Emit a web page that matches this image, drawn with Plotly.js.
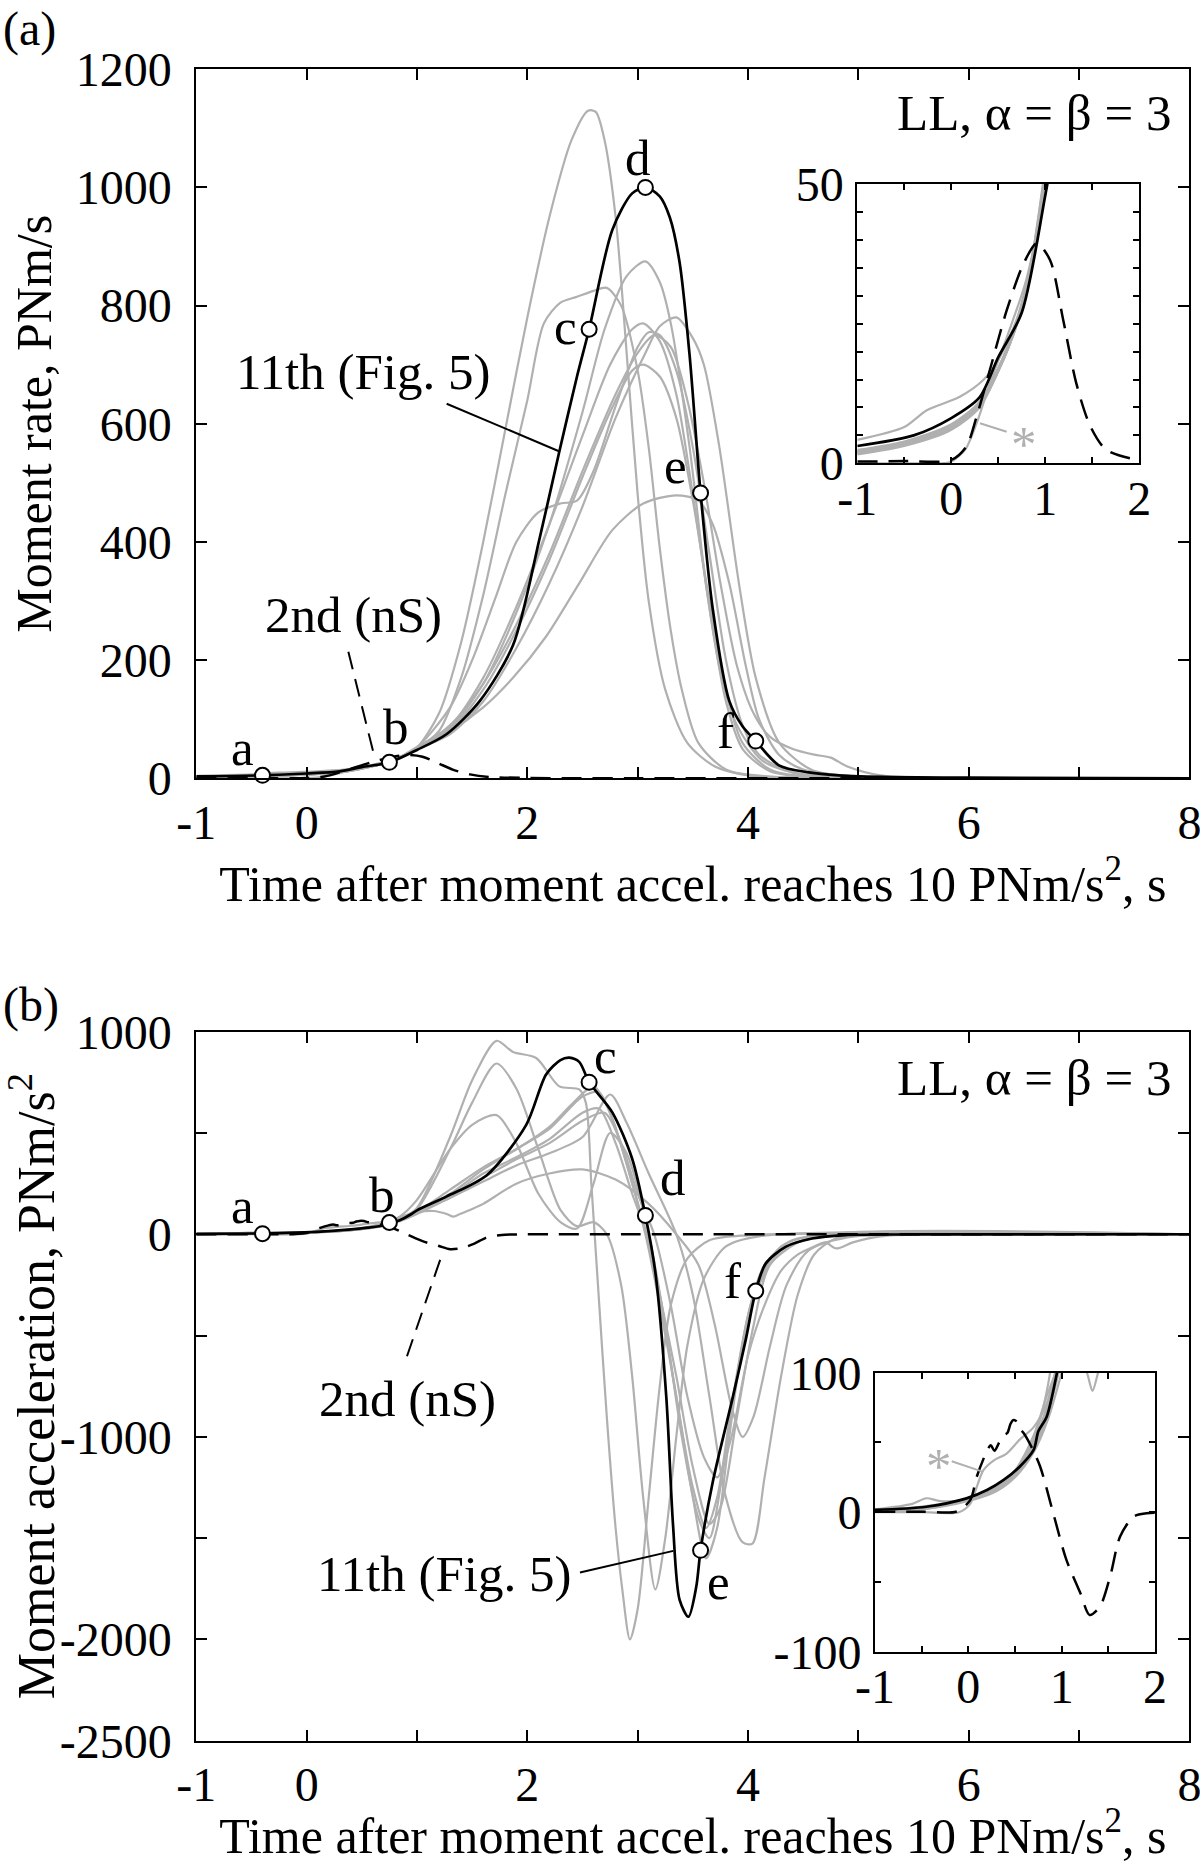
<!DOCTYPE html>
<html>
<head>
<meta charset="utf-8">
<script src="https://cdn.plot.ly/plotly-3.0.1.min.js"></script>
<style>html,body{margin:0;padding:0;background:#fff;}#chart{width:1200px;height:1864px;}</style>
</head>
<body>
<div id="chart"></div>
<script>
// ---------------- DATA ----------------
// tick labels (labelled ticks) and unlabelled minor ticks
const xTickVals = [-1,0,2,4,6,8];
const xTickText = ['-1','0','2','4','6','8'];
const xMinorVals = [1,3,5,7];
const rateTickVals = [0,200,400,600,800,1000,1200];
const rateTickText = ['0','200','400','600','800','1000','1200'];
const accTickVals = [1000,0,-1000,-2000,-2500];
const accTickText = ['1000','0','-1000','-2000','-2500'];
const accMinorVals = [500,-500,-1500];
const insetXVals = [-1,0,1,2];
const insetXText = ['-1','0','1','2'];
const insetXMinor = [-0.5,0.5,1.5];
const insetRateVals = [0,50];
const insetRateText = ['0','50'];
const insetRateMinor = [5,10,15,20,25,30,35,40,45];
const insetAccVals = [-100,0,100];
const insetAccText = ['-100','0','100'];
const insetAccMinor = [-50,50];

// point labels a-f
const markLabels = ['a','b','c','d','e','f'];
const markT = [-0.4, 0.75, 2.56, 3.07, 3.57, 4.07];
const markRate = [5, 27, 760, 1000, 483, 63];
const markAcc = [3, 58, 751, 93, -1560, -280];

// 11th event (black solid), moment rate
const tRate11 = [-1,-0.4,0,0.3,0.5,0.75,1.0,1.27,1.57,1.87,2.11,2.29,2.45,2.56,2.77,2.95,3.07,3.2,3.29,3.38,3.47,3.57,3.68,3.83,3.95,4.07,4.28,4.55,4.82,5.3,6,8];
const yRate11 = [3.1,5,8.1,11.8,19,27,48,75,131,225,405,553,680,760,928,990,1000,985,950,873,717,483,287,131,88,63,22,10,5,2,1,0];
// 2nd event (dashed), moment rate
const tRate2 = [-1,-0.5,0,0.16,0.27,0.41,0.59,0.77,0.91,1.05,1.19,1.33,1.48,1.65,2,3,8];
const yRate2 = [0.3,0.4,0.6,3,8.4,16.7,27.4,35.8,39.4,36.4,25.7,14.3,6.6,2.4,0.6,0,0];

// other events (grey), moment rate
const tRateG1 = [-1,-0.5,0,0.3,0.5,0.7,0.85,1.0,1.2,1.4,1.6,1.8,2.0,2.2,2.4,2.55,2.62,2.7,2.8,2.9,3.0,3.1,3.25,3.45,3.7,4.0,4.5,8];
const yRateG1 = [2.0,3.5,6.5,10.5,16.5,25,35,52,110,230,400,590,780,950,1080,1130,1128,1080,950,720,480,300,150,60,20,5,1,0];
const tRateG2 = [-1,-0.5,0,0.3,0.5,0.7,0.85,1.0,1.2,1.4,1.6,1.8,2.0,2.15,2.3,2.45,2.6,2.72,2.85,3.0,3.1,3.2,3.3,3.4,3.55,3.8,4.2,8];
const yRateG2 = [1.8,3.3,6.2,10.2,16.5,25,35,50,80,170,310,480,640,770,805,815,825,830,800,690,560,390,250,150,60,15,3,0];
const tRateG3 = [-1,-0.5,0,0.3,0.5,0.7,0.85,1.0,1.3,1.6,1.9,2.2,2.5,2.7,2.9,3.07,3.2,3.3,3.47,3.62,3.75,3.9,4.13,4.5,5,8];
const yRateG3 = [2.2,3.7,6.8,11,17,25.5,35.5,51,85,160,280,430,620,760,850,875,840,770,561,327,180,90,30,6,1,0];
const tRateG4 = [-1,-0.5,0,0.3,0.5,0.7,0.85,1.0,1.3,1.6,1.9,2.2,2.5,2.8,3.07,3.2,3.35,3.5,3.6,3.74,3.92,4.07,4.28,4.58,5,8];
const yRateG4 = [1.6,3.1,6.0,10,16.5,25,34.5,49,75,130,220,330,460,610,720,765,780,745,700,561,327,170,61,14,3,0];
const tRateG5 = [-1,-0.5,0,0.3,0.5,0.7,0.85,1.0,1.3,1.6,1.9,2.2,2.5,2.75,2.95,3.05,3.2,3.35,3.5,3.65,3.8,3.95,4.2,4.6,8];
const yRateG5 = [2.4,3.9,7.0,11,17,25.5,36,53,88,170,290,430,580,700,760,770,740,650,480,290,130,50,12,2,0];
const tRateG6 = [-1,-0.5,0,0.3,0.5,0.7,0.85,1.0,1.3,1.6,1.9,2.2,2.5,2.75,2.95,3.05,3.2,3.35,3.5,3.65,3.8,3.95,4.2,4.6,8];
const yRateG6 = [1.9,3.4,6.4,10.4,16.8,25.3,35.2,51,82,150,250,370,510,620,690,700,680,610,470,300,150,60,15,2,0];
const tRateG7 = [-1,-0.5,-0.26,0.09,0.34,0.5,0.7,0.85,1.0,1.3,1.6,1.87,2.17,2.47,2.77,3.05,3.35,3.55,3.68,3.83,3.98,4.1,4.28,4.5,5,8];
const yRateG7 = [4.2,6.5,9.5,11.9,14.9,18.5,26,36,52,80,120,170,240,330,420,465,479,470,430,330,190,100,40,15,3,0];
const tRateG8 = [-1,-0.5,0,0.3,0.5,0.7,0.85,1.0,1.3,1.5,1.72,1.9,2.1,2.3,2.45,2.6,2.8,3.0,3.1,3.2,3.35,3.5,3.65,3.8,3.95,4.1,4.4,5,8];
const yRateG8 = [2.1,3.6,6.6,10.8,17,25.5,35.8,52,120,200,310,400,450,465,470,520,630,730,755,750,690,560,380,200,90,40,10,2,0];
const tRateG9 = [-1,-0.5,-0.1,0,0.15,0.27,0.41,0.6,0.8,1.0,1.3,1.6,1.9,2.2,2.5,2.8,3.0,3.15,3.3,3.45,3.6,3.75,3.9,4.05,4.2,4.4,4.6,4.75,4.9,5.2,5.6,8];
const yRateG9 = [0,0,0,0.3,2.5,7.2,14.3,23,33,50,90,160,260,380,520,650,720,750,730,640,500,330,190,110,70,50,40,35,20,5,1,0];

// 11th event (black solid), moment acceleration
const tAcc11 = [-1,-0.45,-0.02,0.2,0.375,0.55,0.7,0.75,0.84,0.95,1.0,1.27,1.63,1.99,2.17,2.3,2.38,2.47,2.56,2.77,2.95,3.07,3.16,3.26,3.32,3.38,3.46,3.53,3.57,3.68,3.86,3.98,4.07,4.16,4.34,4.58,4.88,5.5,8];
const yAcc11 = [1.6,3.9,9.9,15.9,23,32.6,44.6,58,68.5,100,118,187,290,540,789,860,872,851,751,602,373,93,-187,-809,-1432,-1805,-1888,-1743,-1560,-1224,-809,-519,-280,-145,-62,-21,-4,-1,0];
// 2nd event (dashed), moment acceleration
const tAcc2 = [-1,-0.5,-0.125,0.02,0.09,0.2,0.24,0.28,0.33,0.375,0.42,0.45,0.48,0.52,0.55,0.59,0.66,0.77,0.91,1.05,1.2,1.3,1.41,1.52,1.625,1.77,1.91,2.2,3,8];
const yAcc2 = [0.4,0.4,0.5,8.7,25.4,44,48,44,50,55,57,63,66,65,60,57,49,32.6,-0.8,-34,-58,-73.7,-67.7,-46,-17.6,-3.2,-0.8,0,0,0];

// other events (grey), moment acceleration
const tAccG1 = [-1,-0.5,0,0.3,0.5,0.7,0.85,1.0,1.3,1.5,1.72,1.87,2.08,2.29,2.47,2.53,2.58,2.64,2.72,2.8,2.86,2.93,3.0,3.1,3.2,3.3,3.45,3.65,4.0,8];
const yAccG1 = [1,3,10,18,27,48,75,130,480,760,955,900,870,730,715,650,250,-250,-900,-1450,-1750,-2000,-1850,-1300,-750,-350,-120,-30,-5,0];
const tAccG2 = [-1,-0.5,0,0.3,0.5,0.7,0.85,1.0,1.3,1.5,1.72,1.9,2.1,2.3,2.45,2.6,2.72,2.85,2.95,3.05,3.16,3.25,3.35,3.45,3.6,3.8,4.1,8];
const yAccG2 = [0.5,2,9,17,28,50,78,125,420,650,843,720,420,120,40,60,0,-250,-700,-1300,-1753,-1500,-1000,-550,-220,-60,-10,0];
const tAccG3 = [-1,-0.5,0,0.3,0.5,0.7,0.85,1.0,1.3,1.6,1.9,2.2,2.4,2.6,2.75,2.9,3.07,3.2,3.35,3.5,3.62,3.72,3.83,3.95,4.1,4.3,4.6,5,8];
const yAccG3 = [1,2.5,9,16,26,45,70,110,220,330,420,530,640,730,600,350,0,-350,-800,-1300,-1600,-1450,-1000,-550,-250,-80,-15,0,0];
const tAccG4 = [-1,-0.5,0,0.3,0.5,0.7,0.85,1.0,1.3,1.6,1.9,2.2,2.5,2.75,2.9,3.1,3.35,3.5,3.65,3.8,3.95,4.04,4.15,4.3,4.45,4.6,4.8,5.2,8];
const yAccG4 = [0.5,2,8,15,25,43,66,100,180,260,340,400,480,690,550,300,0,-300,-800,-1300,-1520,-1527,-1200,-700,-300,-100,-20,0,0];
const tAccG5 = [-1,-0.5,0,0.3,0.5,0.7,0.85,1.0,1.3,1.6,1.9,2.2,2.5,2.65,2.8,2.95,3.08,3.2,3.35,3.5,3.62,3.72,3.85,4.0,4.15,4.4,4.8,8];
const yAccG5 = [1.5,4,10,17,27,46,72,115,200,320,420,520,680,700,520,250,0,-300,-800,-1250,-1450,-1300,-850,-400,-150,-30,0,0];
const tAccG6 = [-1,-0.5,0,0.3,0.5,0.7,0.85,1.0,1.3,1.6,1.9,2.2,2.5,2.65,2.8,2.95,3.08,3.2,3.35,3.5,3.65,3.75,3.9,4.05,4.2,4.5,5,8];
const yAccG6 = [1,3,9,16,27,47,74,118,190,300,380,470,600,620,450,200,0,-300,-700,-1150,-1430,-1350,-900,-450,-150,-30,0,0];
const tAccG7 = [-1,-0.6,-0.45,-0.3,0,0.3,0.5,0.7,0.85,1.0,1.15,1.27,1.33,1.39,1.5,1.6,1.9,2.2,2.5,2.8,3.1,3.35,3.55,3.7,3.85,3.95,4.05,4.2,4.35,4.55,4.9,5.5,8];
const yAccG7 = [2,6,10,8,9,18,30,55,85,108,115,100,87,100,125,150,250,300,320,270,150,0,-150,-450,-850,-1000,-900,-550,-250,-80,-15,0,0];
const tAccG8 = [-1,-0.5,0,0.3,0.5,0.7,0.85,1.0,1.3,1.5,1.72,1.9,2.1,2.3,2.45,2.6,2.75,2.9,3.1,3.25,3.4,3.55,3.65,3.75,3.9,4.05,4.3,4.7,8];
const yAccG8 = [0.5,2,9,17,28,52,90,170,420,540,588,450,200,60,28,250,500,400,0,-450,-1000,-1400,-1500,-1250,-700,-300,-60,0,0];
const tAccG9 = [-1,-0.5,-0.1,0.02,0.1,0.16,0.27,0.41,0.55,0.7,0.84,0.93,1.0,1.3,1.6,1.9,2.2,2.5,2.7,2.85,3.0,3.15,3.3,3.45,3.6,3.72,3.85,4.0,4.15,4.3,4.45,4.6,4.7,4.8,4.95,5.2,5.6,8];
const yAccG9 = [0,0,0,6,20,30,37,42,52,61,78,100,115,180,280,370,450,560,600,450,200,0,-350,-800,-1100,-1200,-1000,-600,-350,-180,-100,-60,-40,-70,-40,-10,0,0];

// ---------------- FIGURE ----------------
const W = 1200, H = 1864;
const FONT = 'Liberation Serif, Times New Roman, serif';
const GREY = '#b0b0b0';
const px = v => v / W;
const py = v => 1 - v / H;

const rateGreys = [[tRateG1,yRateG1],[tRateG2,yRateG2],[tRateG3,yRateG3],[tRateG4,yRateG4],[tRateG5,yRateG5],[tRateG6,yRateG6],[tRateG7,yRateG7],[tRateG8,yRateG8],[tRateG9,yRateG9]];
const accGreys = [[tAccG1,yAccG1],[tAccG2,yAccG2],[tAccG3,yAccG3],[tAccG4,yAccG4],[tAccG5,yAccG5],[tAccG6,yAccG6],[tAccG7,yAccG7],[tAccG8,yAccG8],[tAccG9,yAccG9]];

const traces = [];
function addSet(xa, ya, greys, t11, y11, t2, y2, withMarks, markY) {
  greys.forEach(g => traces.push({x:g[0], y:g[1], xaxis:xa, yaxis:ya, type:'scatter', mode:'lines',
    line:{color:GREY, width:2.2, shape:'spline', smoothing:0.8}, hoverinfo:'skip', showlegend:false}));
  traces.push({x:t2, y:y2, xaxis:xa, yaxis:ya, type:'scatter', mode:'lines',
    line:{color:'black', width:2.5, dash:'20px,11px', shape:'spline', smoothing:0.8}, hoverinfo:'skip', showlegend:false});
  traces.push({x:t11, y:y11, xaxis:xa, yaxis:ya, type:'scatter', mode:'lines',
    line:{color:'black', width:2.7, shape:'spline', smoothing:0.8}, hoverinfo:'skip', showlegend:false});
  if (withMarks) traces.push({x:markT, y:markY, text:markLabels, xaxis:xa, yaxis:ya, type:'scatter', mode:'markers',
    marker:{symbol:'circle', size:15, color:'white', line:{color:'black', width:2}}, hoverinfo:'skip', showlegend:false, cliponaxis:false});
}
addSet('x','y', rateGreys, tRate11, yRate11, tRate2, yRate2, true, markRate);
addSet('x2','y2', accGreys, tAcc11, yAcc11, tAcc2, yAcc2, true, markAcc);
addSet('x3','y3', rateGreys, tRate11, yRate11, tRate2, yRate2, false, null);
addSet('x4','y4', accGreys, tAcc11, yAcc11, tAcc2, yAcc2, false, null);

function ax(extra, minorVals, len) {
  const L = len || 11;
  const o = {showline:true, linecolor:'black', linewidth:2, mirror:'allticks', ticks:'inside',
    ticklen:L, tickwidth:2, tickcolor:'black', showgrid:false, zeroline:false, fixedrange:true,
    ticklabeloverflow:'allow', tickmode:'array',
    tickfont:{family:FONT, size:48, color:'black'}};
  if (minorVals) o.minor = {tickmode:'array', tickvals:minorVals, ticks:'inside', ticklen:L, tickwidth:2, tickcolor:'black', showgrid:false};
  return Object.assign(o, extra);
}
const titleFont = {family:FONT, size:50, color:'black'};
const xTitle = 'Time after moment accel. reaches 10 PNm/s<sup>2</sup>, s';

const layout = {
  width:W, height:H, margin:{l:0,r:0,t:0,b:0}, paper_bgcolor:'white', plot_bgcolor:'white',
  showlegend:false, font:{family:FONT, size:48, color:'black'},
  xaxis: ax({domain:[px(196.3), px(1189.4)], range:[-1,8], anchor:'y', tickvals:xTickVals, ticktext:xTickText,
    ticklabelstandoff:1, title:{text:xTitle, font:titleFont, standoff:13}}, xMinorVals),
  yaxis: ax({domain:[py(778.3), py(69.3)], range:[0,1200], anchor:'x', tickvals:rateTickVals, ticktext:rateTickText,
    ticklabelstandoff:13, title:{text:'Moment rate, PNm/s', font:titleFont, standoff:8}}),
  xaxis2: ax({domain:[px(196.3), px(1189.4)], range:[-1,8], anchor:'y2', tickvals:xTickVals, ticktext:xTickText,
    ticklabelstandoff:1, title:{text:xTitle, font:titleFont, standoff:13}}, xMinorVals),
  yaxis2: ax({domain:[py(1740.7), py(1031.7)], range:[-2500,1000], anchor:'x2', tickvals:accTickVals, ticktext:accTickText,
    ticklabelstandoff:13, title:{text:'Moment acceleration, PNm/s<sup>2</sup>', font:{family:FONT, size:52, color:'black'}, standoff:12}}, accMinorVals),
  xaxis3: ax({domain:[px(857.3), px(1139.3)], range:[-1,2], anchor:'y3', tickvals:insetXVals, ticktext:insetXText,
    ticklabelstandoff:-8}, insetXMinor, 6),
  yaxis3: ax({domain:[py(463.3), py(184)], range:[0,50], anchor:'x3', tickvals:insetRateVals, ticktext:insetRateText,
    ticklabelstandoff:2}, insetRateMinor, 6),
  xaxis4: ax({domain:[px(875), px(1155)], range:[-1,2], anchor:'y4', tickvals:insetXVals, ticktext:insetXText,
    ticklabelstandoff:-8}, insetXMinor, 6),
  yaxis4: ax({domain:[py(1651.7), py(1372.7)], range:[-100,100], anchor:'x4', tickvals:insetAccVals, ticktext:insetAccText,
    ticklabelstandoff:2}, insetAccMinor, 6),
  annotations: [],
  shapes: []
};

const LABF = 51;
function lab(text, x, y, xr, yr, opts) {
  layout.annotations.push(Object.assign({text:text, x:x, y:y, xref:xr, yref:yr, showarrow:false,
    xanchor:'center', yanchor:'middle', font:{family:FONT, size:LABF, color:'black'}}, opts || {}));
}
// panel letters
lab('(a)', px(1), 1, 'paper', 'paper', {xanchor:'left', yanchor:'top', font:{family:FONT, size:48, color:'black'}});
lab('(b)', px(1), py(976), 'paper', 'paper', {xanchor:'left', yanchor:'top', font:{family:FONT, size:48, color:'black'}});
// point labels
const topLabPos = [[-0.577,51],[0.81,87],[2.35,763],[3.003,1050],[3.343,528],[3.80,80]];
const botLabPos = [[-0.577,142],[0.68,194],[2.711,880],[3.316,280],[3.731,-1716],[3.86,-230]];
markLabels.forEach((m,i) => { lab(m, topLabPos[i][0], topLabPos[i][1], 'x', 'y'); lab(m, botLabPos[i][0], botLabPos[i][1], 'x2', 'y2'); });
lab('11th (Fig. 5)', 0.516, 688, 'x', 'y');
lab('2nd (nS)', 0.429, 276, 'x', 'y');
lab('LL, α = β = 3', 7.861, 1126, 'x', 'y', {xanchor:'right'});
lab('2nd (nS)', 0.912, -812, 'x2', 'y2');
lab('11th (Fig. 5)', 1.253, -1678, 'x2', 'y2');
lab('LL, α = β = 3', 7.861, 773, 'x2', 'y2', {xanchor:'right'});
lab('*', 0.773, 3.5, 'x3', 'y3', {font:{family:FONT, size:LABF, color:GREY}});
lab('*', -0.314, 33, 'x4', 'y4', {font:{family:FONT, size:LABF, color:GREY}});

function seg(x0,y0,x1,y1,xr,yr,color,dash) {
  layout.shapes.push({type:'line', x0:x0, y0:y0, x1:x1, y1:y1, xref:xr, yref:yr,
    line:{color:color, width:2, dash:dash || 'solid'}});
}
seg(1.269,634,2.281,554,'x','y','black');
seg(0.378,214,0.603,45,'x','y','black','18px,10px');
seg(1.210,-126,0.898,-620,'x2','y2','black','18px,10px');
seg(2.477,-1670,3.323,-1563,'x2','y2','black');
seg(0.305,7.16,0.589,5.66,'x3','y3',GREY);
seg(-0.178,36.5,0.143,29.3,'x4','y4',GREY);

Plotly.newPlot('chart', traces, layout, {staticPlot:true, displayModeBar:false});
</script>
</body>
</html>
